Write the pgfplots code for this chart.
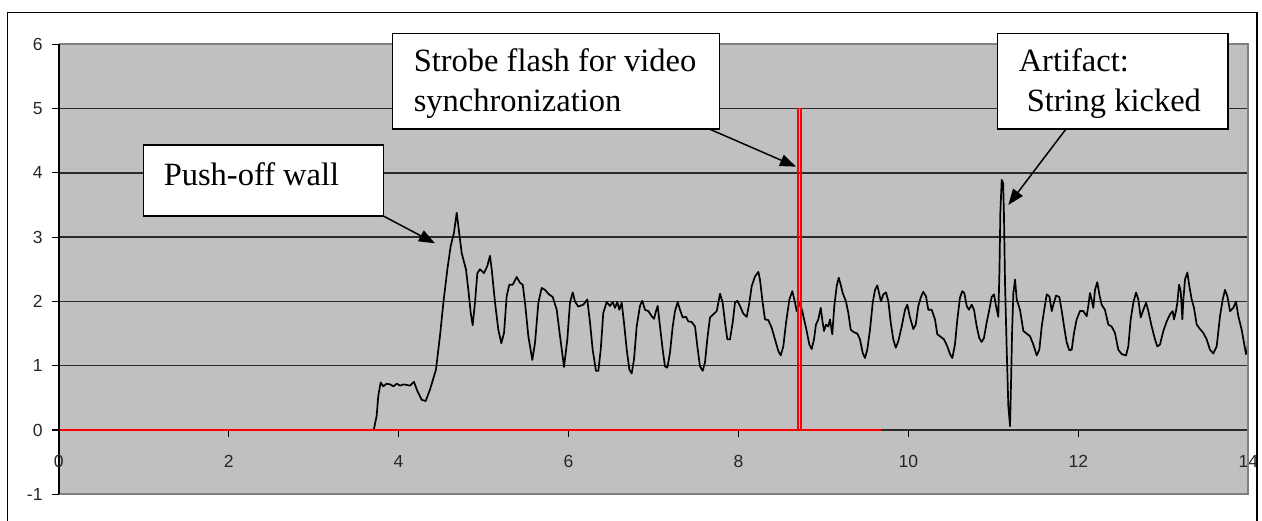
\documentclass[border=0pt]{standalone}
\usepackage{pgfplots}
\pgfplotsset{compat=1.18}
\usepackage{fontspec}
\setmainfont{Liberation Serif}
\newfontfamily\arial{Liberation Sans}
\usetikzlibrary{arrows.meta}
\definecolor{plotbg}{HTML}{C0C0C0}
\definecolor{bordergray}{HTML}{808080}
\definecolor{axisdark}{HTML}{2A2A2A}
\begin{document}
\begin{tikzpicture}[x=1pt,y=1pt]
\useasboundingbox (0,0) rectangle (1262,521);
\begin{axis}[
  at={(58.7pt,26.7pt)}, anchor=south west,
  scale only axis, width=1189.6pt, height=450pt,
  xmin=0, xmax=14, ymin=-1, ymax=6,
  clip mode=individual,
  axis x line=middle, axis y line=left,
  x axis line style={-, color=axisdark, line width=1.5pt},
  y axis line style={-, color=black, line width=2pt},
  xtick={0,2,...,14}, ytick={-1,0,...,6},
  tick align=outside, major tick length=7pt,
  tick style={black, line width=1.2pt},
  ymajorgrids, grid style={axisdark, line width=1.4pt},
  axis background/.style={fill=plotbg},
  /pgf/number format/assume math mode=true,
  tick label style={font=\arial\fontsize{17.5}{20}\selectfont, text=black!85, inner sep=0pt},
  xticklabel shift=18pt,
  yticklabel shift=9pt,
]
\addplot[black, line width=1.7pt, line join=round] coordinates {
(0,0) (3.70,0) (3.711,0.02) (3.742,0.22) (3.761,0.53) (3.789,0.74) (3.820,0.68)
(3.860,0.72) (3.899,0.71) (3.94,0.68) (3.978,0.72) (4.02,0.69) (4.056,0.71)
(4.10,0.70) (4.134,0.69) (4.181,0.75) (4.220,0.61) (4.272,0.47) (4.319,0.45)
(4.370,0.63) (4.440,0.94) (4.487,1.46) (4.527,1.98) (4.574,2.50) (4.613,2.86)
(4.652,3.07) (4.684,3.38) (4.708,3.12) (4.743,2.75) (4.793,2.50) (4.821,2.18)
(4.849,1.82) (4.872,1.63) (4.899,1.98) (4.927,2.44) (4.958,2.50) (5.005,2.44)
(5.044,2.55) (5.076,2.71) (5.096,2.50) (5.135,1.98) (5.174,1.56) (5.209,1.35)
(5.241,1.51) (5.272,2.08) (5.303,2.26) (5.343,2.26) (5.390,2.38) (5.429,2.29)
(5.461,2.26) (5.488,1.98) (5.527,1.46) (5.574,1.09) (5.606,1.36) (5.645,1.98)
(5.684,2.21) (5.723,2.18) (5.770,2.11) (5.814,2.07) (5.861,1.87) (5.900,1.46)
(5.947,0.98) (5.986,1.41) (6.017,1.98) (6.049,2.14) (6.076,2.00) (6.115,1.92)
(6.174,1.95) (6.221,2.03) (6.253,1.67) (6.284,1.25) (6.323,0.92) (6.351,0.92)
(6.379,1.25) (6.409,1.82) (6.449,1.99) (6.488,1.93) (6.520,1.99) (6.547,1.90)
(6.574,1.99) (6.598,1.87) (6.626,1.98) (6.653,1.67) (6.685,1.25) (6.716,0.94)
(6.743,0.88) (6.771,1.10) (6.802,1.61) (6.841,1.93) (6.868,2.01) (6.900,1.87)
(6.939,1.85) (6.979,1.77) (7.006,1.73) (7.030,1.85) (7.049,1.93) (7.077,1.61)
(7.108,1.25) (7.135,0.99) (7.163,0.97) (7.194,1.20) (7.226,1.61) (7.253,1.85)
(7.285,1.99) (7.312,1.87) (7.344,1.75) (7.383,1.76) (7.410,1.69) (7.450,1.68)
(7.489,1.61) (7.516,1.30) (7.547,0.99) (7.579,0.92) (7.606,1.05) (7.633,1.41)
(7.665,1.75) (7.704,1.80) (7.744,1.85) (7.763,1.98) (7.783,2.12) (7.814,1.98)
(7.842,1.67) (7.869,1.41) (7.900,1.41) (7.932,1.67) (7.959,1.98) (7.987,2.01)
(8.018,1.93) (8.057,1.81) (8.097,1.76) (8.128,1.98) (8.156,2.24) (8.195,2.39)
(8.234,2.46) (8.253,2.34) (8.285,1.98) (8.312,1.72) (8.351,1.71) (8.391,1.59)
(8.430,1.41) (8.469,1.23) (8.497,1.16) (8.528,1.30) (8.560,1.67) (8.599,2.03)
(8.634,2.16) (8.666,1.98) (8.685,1.85) (8.724,1.98) (8.756,1.82) (8.803,1.54)
(8.834,1.33) (8.862,1.26) (8.889,1.41) (8.912,1.64) (8.940,1.72) (8.968,1.90)
(8.991,1.67) (9.007,1.54) (9.030,1.64) (9.057,1.61) (9.077,1.72) (9.104,1.49)
(9.128,1.93) (9.156,2.24) (9.180,2.37) (9.203,2.26) (9.227,2.13) (9.265,2.00)
(9.293,1.82) (9.321,1.56) (9.360,1.52) (9.399,1.50) (9.430,1.41) (9.462,1.20)
(9.489,1.12) (9.516,1.25) (9.548,1.56) (9.580,1.98) (9.607,2.18) (9.634,2.25)
(9.658,2.11) (9.677,2.00) (9.705,2.11) (9.736,2.14) (9.764,2.00) (9.792,1.67)
(9.822,1.41) (9.851,1.28) (9.881,1.38) (9.921,1.61) (9.960,1.87) (9.987,1.95)
(10.019,1.75) (10.058,1.57) (10.086,1.64) (10.117,1.93) (10.145,2.06) (10.175,2.15)
(10.207,2.08) (10.234,1.87) (10.274,1.87) (10.313,1.72) (10.340,1.49) (10.380,1.45)
(10.419,1.41) (10.458,1.30) (10.490,1.18) (10.517,1.12) (10.548,1.33) (10.576,1.72)
(10.607,2.06) (10.634,2.16) (10.658,2.13) (10.686,1.93) (10.713,1.87) (10.745,1.95)
(10.772,1.87) (10.804,1.61) (10.834,1.43) (10.862,1.37) (10.889,1.43) (10.921,1.67)
(10.952,1.87) (10.980,2.07) (11.007,2.11) (11.031,1.93) (11.058,1.76) (11.072,2.50)
(11.082,3.38) (11.098,3.89) (11.115,3.84) (11.125,3.32) (11.137,2.29) (11.157,1.25)
(11.176,0.37) (11.196,0.06) (11.208,0.74) (11.220,1.51) (11.235,2.13) (11.255,2.34)
(11.275,2.03) (11.313,1.87) (11.353,1.54) (11.392,1.50) (11.431,1.46) (11.470,1.33)
(11.510,1.16) (11.541,1.25) (11.569,1.61) (11.596,1.85) (11.628,2.11) (11.659,2.08)
(11.687,1.85) (11.706,1.95) (11.738,2.09) (11.776,2.07) (11.805,1.85) (11.832,1.61)
(11.863,1.36) (11.894,1.24) (11.922,1.25) (11.949,1.51) (11.980,1.72) (12.019,1.85)
(12.058,1.85) (12.098,1.77) (12.117,1.93) (12.137,2.13) (12.156,2.03) (12.176,1.90)
(12.196,2.18) (12.223,2.30) (12.247,2.11) (12.274,1.95) (12.313,1.87) (12.353,1.64)
(12.392,1.61) (12.431,1.51) (12.470,1.25) (12.510,1.18) (12.561,1.16) (12.588,1.30)
(12.616,1.72) (12.647,1.98) (12.679,2.14) (12.706,2.03) (12.734,1.75) (12.765,1.87)
(12.797,1.98) (12.824,1.85) (12.863,1.61) (12.902,1.41) (12.929,1.30) (12.961,1.33)
(13.000,1.54) (13.040,1.69) (13.079,1.80) (13.110,1.85) (13.126,1.72) (13.149,1.85)
(13.165,1.98) (13.185,2.26) (13.205,2.16) (13.224,1.72) (13.236,2.03) (13.255,2.34)
(13.283,2.45) (13.306,2.24) (13.334,2.03) (13.361,1.90) (13.393,1.64) (13.432,1.57)
(13.471,1.51) (13.510,1.41) (13.549,1.25) (13.588,1.19) (13.628,1.30) (13.667,1.77)
(13.699,2.03) (13.726,2.18) (13.754,2.08) (13.785,1.85) (13.824,1.90) (13.855,2.00)
(13.883,1.77) (13.922,1.56) (13.949,1.36) (13.973,1.18) (13.990,1.25) (14.000,1.55)
};
\addplot[red, line width=1.3pt, line join=miter] coordinates {
(0,0) (8.700,0) (8.700,5) (8.735,5) (8.735,0) (9.680,0)
};
\draw[bordergray, line width=2pt] (rel axis cs:0,1) -- (rel axis cs:1,1) -- (rel axis cs:1,0) -- (rel axis cs:0,0);
\draw[black, line width=2pt] (rel axis cs:0,0) -- (rel axis cs:0,1);
\node[font=\arial\fontsize{17.5}{20}\selectfont, text=black!85, anchor=north, inner sep=0pt, yshift=-25pt] at (axis cs:0,0) {0};
\end{axis}
% outer frame
\draw[black, line width=1.5pt] (7.3,-5) -- (7.3,508.3) -- (1257,508.3) -- (1257,-5);
% annotation boxes
\begin{scope}[line width=1.5pt]
\draw[fill=white] (143.3,305) rectangle (383.3,376);
\node[anchor=base west, inner sep=0pt, font=\fontsize{32.5}{40}\selectfont] at (163,335) {Push-off wall};
\draw[-{Triangle[length=16pt,width=12pt]}] (383.3,305) -- (435,277.7);
\draw[fill=white] (392.7,392) rectangle (719.3,487.7);
\node[anchor=base west, inner sep=0pt, font=\fontsize{32.5}{40}\selectfont] at (413,449.3) {Strobe flash for video};
\node[anchor=base west, inner sep=0pt, font=\fontsize{32.5}{40}\selectfont] at (413,409.3) {synchronization};
\draw[-{Triangle[length=16pt,width=12pt]}] (709.3,392) -- (796,354.3);
\draw[fill=white] (997.7,392) rectangle (1228,487.7);
\node[anchor=base west, inner sep=0pt, font=\fontsize{32.5}{40}\selectfont] at (1018,449.3) {Artifact:};
\node[anchor=base west, inner sep=0pt, font=\fontsize{32.5}{40}\selectfont] at (1026,409.3) {String kicked};
\draw[-{Triangle[length=16pt,width=12pt]}] (1066,392) -- (1008.3,316);
\end{scope}
\end{tikzpicture}
\end{document}
